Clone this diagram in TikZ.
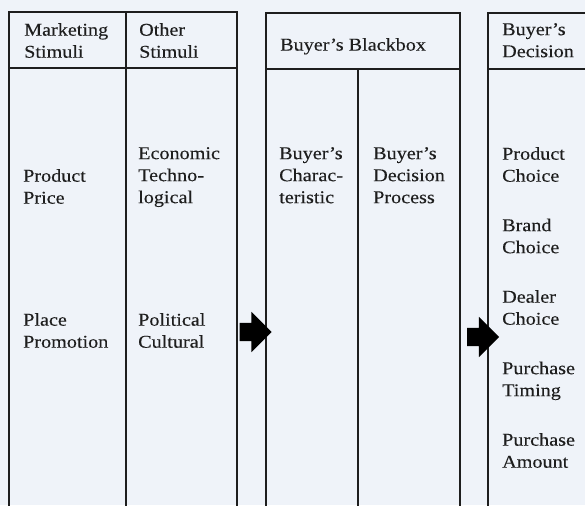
\documentclass[tikz,border=0pt]{standalone}
\usepackage{fontspec}
\setmainfont{Liberation Serif}[FakeStretch=1.12, FakeBold=0.2]
\usetikzlibrary{shapes.arrows, positioning}
\definecolor{paperbg}{RGB}{239, 243, 249}
\definecolor{inkgray}{RGB}{30, 30, 30}
\newcommand{\cellfont}{\fontsize{18}{22}\selectfont}

\begin{document}
\begin{tikzpicture}[x=1pt, y=-1pt,
        frame/.style={draw=inkgray, line width=1.8pt},
        celltext/.style={anchor=north west, inner sep=0pt, align=left, font=\cellfont,
            text=inkgray, execute at begin node=\strut},
        blockarrow/.style={single arrow, fill=black, draw=none, inner xsep=0pt,
            inner ysep=9pt, minimum height=32pt, single arrow head extend=11pt,
            single arrow head indent=0pt}]
    % paper and clipping
    \fill[paperbg] (0,0) rectangle (585,505);
    \clip (0,0) rectangle (585,505);

    % stimuli table
    \draw[frame] (9.3,515) -- (9.3,11.7) -- (236.7,11.7) -- (236.7,515);
    \draw[frame] (125.7,11.7) -- (125.7,515);
    \draw[frame] (9.3,68) -- (236.7,68);
    % blackbox table
    \draw[frame] (265.7,515) -- (265.7,13.3) -- (460,13.3) -- (460,515);
    \draw[frame] (265.7,69) -- (460,69);
    \draw[frame] (358.3,69) -- (358.3,515);
    % decision table
    \draw[frame] (488.3,515) -- (488.3,13.3) -- (600,13.3);
    \draw[frame] (488.3,69) -- (600,69);

    % headers
    \node[celltext] (mhead) at (24,23) {Marketing\\Stimuli};
    \node[celltext] (ohead) at (139,23) {Other\\Stimuli};
    \node[celltext] (bhead) at (280,35) {Buyer's Blackbox};
    \node[celltext] (dhead) at (502,23) {Buyer's\\Decision};

    % stimuli
    \node[celltext] (mbodyA) at (23,169) {Product\\Price};
    \node[celltext] (mbodyB) at (23,313) {Place\\Promotion};
    \node[celltext] (obodyA) at (138,147) {Economic\\Techno-\\logical};
    \node[celltext] (obodyB) at (138,313) {Political\\Cultural};

    % blackbox
    \node[celltext] (bchar) at (279,147) {Buyer's\\Charac-\\teristic};
    \node[celltext] (bproc) at (373,147) {Buyer's\\Decision\\Process};

    % decisions
    \node[celltext] (dprod) at (502,147) {Product\\Choice};
    \node[celltext] (dbrand) at (502,218.5) {Brand\\Choice};
    \node[celltext] (ddeal) at (502,290) {Dealer\\Choice};
    \node[celltext] (dtime) at (502,361.5) {Purchase\\Timing};
    \node[celltext] (damnt) at (502,433) {Purchase\\Amount};

    % flow between the tables
    \node[blockarrow] (arrowin) at (251,332) {};
    \node[blockarrow] (arrowout) at (478.5,337) {};
\end{tikzpicture}
\end{document}
